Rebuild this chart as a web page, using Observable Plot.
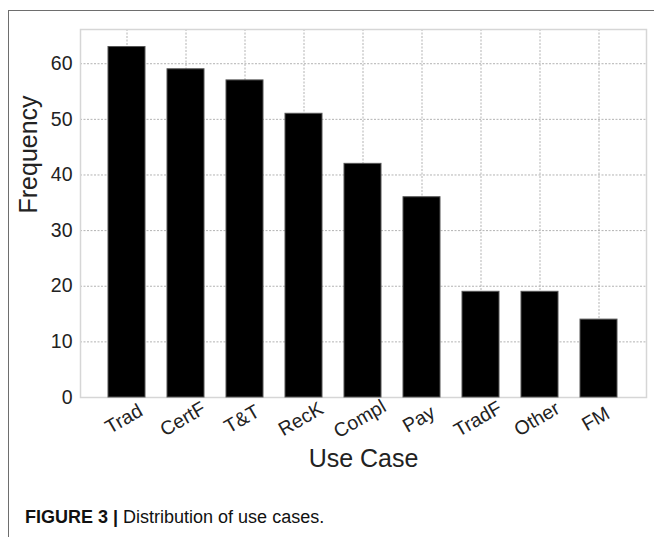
<!DOCTYPE html>
<html>
<head>
<meta charset="utf-8">
<script src="https://cdn.jsdelivr.net/npm/d3@7"></script>
<script src="https://cdn.jsdelivr.net/npm/@observablehq/plot@0.6"></script>
<style>
  html, body { margin: 0; padding: 0; background: #fff; }
  #wrap { position: relative; width: 654px; height: 537px; overflow: hidden; font-family: "Liberation Sans", Arial, sans-serif; }
  #border { position: absolute; left: 8px; top: 10px; right: -2px; bottom: -2px; border-top: 1.5px solid #6e6e6e; border-left: 1.5px solid #6e6e6e; }
  #chart { position: absolute; left: 0; top: 0; }
  #caption { position: absolute; left: 25px; top: 507px; font-size: 18px; color: #111; white-space: nowrap; line-height: 20px; }
  #caption b { font-weight: bold; }
</style>
</head>
<body>
<div id="wrap">
  <div id="border"></div>
  <div id="chart"></div>
  <div id="caption"><b>FIGURE 3 |</b> Distribution of use cases.</div>
</div>
<script>
const categories = ["Trad", "CertF", "T&T", "RecK", "Compl", "Pay", "TradF", "Other", "FM"];
const frequencies = [63, 59, 57, 51, 42, 36, 19, 19, 14];
const yTicks = [0, 10, 20, 30, 40, 50, 60];
const xAxisTitle = "Use Case";
const yAxisTitle = "Frequency";

const data = categories.map((c, i) => ({category: c, value: frequencies[i]}));

const chart = Plot.plot({
  width: 654,
  height: 490,
  marginTop: 29,
  marginBottom: 93,
  marginLeft: 80,
  marginRight: 8,
  style: {fontFamily: "'Liberation Sans', Arial, sans-serif", color: "#222", background: "transparent"},
  x: {domain: categories, paddingInner: 0.37, paddingOuter: 0.45, axis: null},
  y: {domain: [0, 66.15], axis: null},
  marks: [
    Plot.gridY(yTicks, {stroke: "#aaa", strokeOpacity: 1, strokeWidth: 0.9, strokeDasharray: "2,1.5"}),
    Plot.gridX(categories, {stroke: "#aaa", strokeOpacity: 1, strokeWidth: 0.9, strokeDasharray: "2,1.5"}),
    Plot.frame({stroke: "#d6d6d6", strokeWidth: 1.5}),
    Plot.barY(data, {x: "category", y: "value", fill: "#000", stroke: "#555", strokeWidth: 1}),
    Plot.axisY(yTicks, {tickSize: 0, tickPadding: 8, fontSize: 19.5, label: null, tickFormat: d => String(d)}),
    Plot.text(categories, {x: d => d, frameAnchor: "bottom", dy: 27, rotate: -30, textAnchor: "middle", fontSize: 19.5, fill: "#222"}),
    Plot.text([xAxisTitle], {frameAnchor: "bottom", dy: 69, fontSize: 25, fill: "#222"}),
    Plot.text([yAxisTitle], {frameAnchor: "left", dx: -52, rotate: -90, fontSize: 25, fill: "#222"})
  ]
});
document.getElementById("chart").appendChild(chart);
</script>
</body>
</html>
